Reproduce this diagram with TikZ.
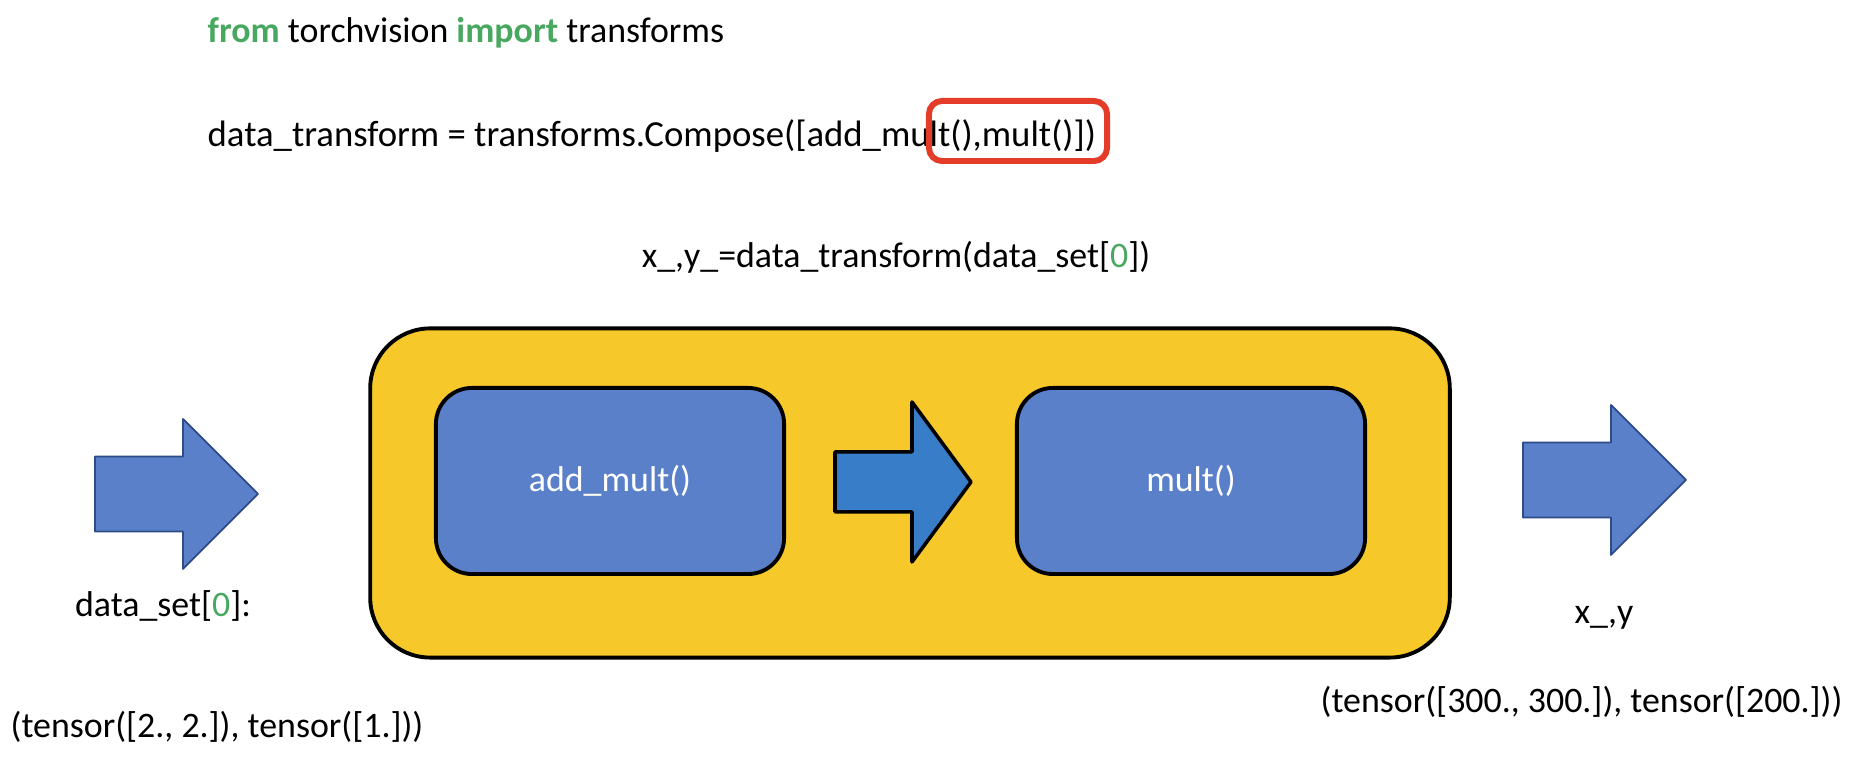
\documentclass[tikz,border=0pt]{standalone}
\usepackage{fontspec}
\setmainfont{Carlito}
\definecolor{boxblue}{RGB}{91,128,202}
\definecolor{arrowblue}{RGB}{55,125,200}
\definecolor{edgeblue}{RGB}{45,75,135}
\definecolor{boxyellow}{RGB}{246,200,42}
\definecolor{hlred}{RGB}{228,60,40}
\definecolor{kwgreen}{RGB}{72,168,96}
\newcommand{\kw}[1]{{\color{kwgreen}#1}}

\begin{document}
\begin{tikzpicture}[x=0.01cm, y=-0.01cm, line join=round,
  every node/.style={font=\fontsize{10.2}{12}\selectfont, inner sep=0pt},
  outerbox/.style={rectangle, rounded corners=0.6cm, draw=black, line width=1.1pt, fill=boxyellow,
    minimum width=10.79cm, minimum height=3.29cm},
  stepbox/.style={rectangle, rounded corners=0.36cm, draw=black, line width=1.1pt, fill=boxblue,
    minimum width=3.48cm, minimum height=1.86cm, text=white},
  hlbox/.style={rectangle, rounded corners=0.13cm, draw=hlred, line width=1.7pt,
    minimum width=1.78cm, minimum height=0.6cm}]
\useasboundingbox (0,0) rectangle (1859,765);

% code lines
\node[anchor=west] (imp)  at (207,33)  {\kw{\bfseries from} torchvision \kw{\bfseries import} transforms};
\node[anchor=west, font=\fontsize{10.45}{12}\selectfont] (comp) at (207,136)
  {data\_transform = transforms.Compose([add\_mult(),mult()])};
\node[hlbox] (hl) at (1018,131) {};
\node (call) at (896,257) {x\_,y\_=data\_transform(data\_set[\kw{0}])};

% pipeline
\node[outerbox] (compose) at (910,493) {};
\node[stepbox] (addmult) at (610,481) {add\_mult()};
\node[stepbox] (mult) at (1191,481) {mult()};

\coordinate (in)  at (95,494);
\coordinate (mid) at (835,482);
\coordinate (out) at (1523,480);

\foreach \p in {in,out}
  \filldraw[fill=boxblue, draw=edgeblue, line width=0.5pt]
    (\p) ++(0,-37.5) -- ++(88,0) -- ++(0,-37.5) -- ++(75,75)
    -- ++(-75,75) -- ++(0,-37.5) -- ++(-88,0) -- cycle;
\filldraw[fill=arrowblue, draw=black, line width=1pt]
  (mid) ++(0,-30) -- ++(77,0) -- ++(0,-50) -- ++(59,80)
  -- ++(-59,80) -- ++(0,-50) -- ++(-77,0) -- cycle;

% data
\node (dsname) at (163,606) {data\_set[\kw{0}]:};
\node[anchor=west] (dsval) at (10,727) {(tensor([2., 2.]), tensor([1.]))};
\node (xyname) at (1604,618) {x\_,y};
\node[anchor=west] (xyval) at (1320,702) {(tensor([300., 300.]), tensor([200.]))};
\end{tikzpicture}
\end{document}
